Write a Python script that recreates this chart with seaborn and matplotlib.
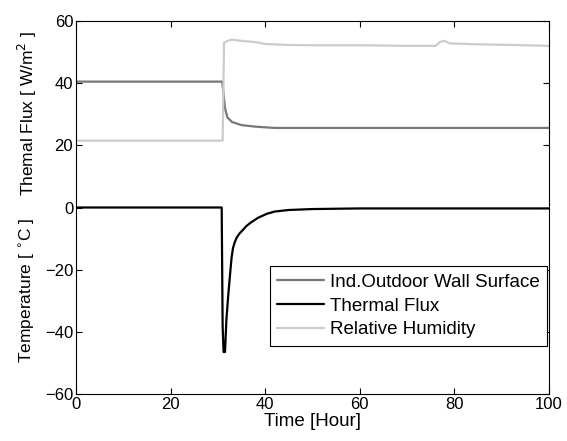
import matplotlib
matplotlib.use("Agg")
import matplotlib.pyplot as plt
import seaborn as sns

# values
t_wall = [0, 30.9, 31.1, 31.5, 32, 33, 35, 38, 40, 42, 100]
v_wall = [40.5, 40.5, 38, 32, 29, 27.5, 26.5, 26, 25.8, 25.6, 25.6]

t_flux = [0, 30.8, 31.0, 31.2, 31.5, 31.8, 32.2, 32.6, 32.9, 33.2, 33.6, 34.0, 34.6,
          35.3, 36.0, 37.0, 38.5, 40.4, 42.0, 45.0, 50.0, 60.0, 70.0, 100.0]
v_flux = [0, 0, -38, -46.5, -46.5, -36, -28, -21, -16, -13, -11, -9.6, -8.3,
          -7.2, -6.0, -4.8, -3.3, -2.0, -1.3, -0.8, -0.5, -0.3, -0.3, -0.3]

t_rh = [0, 31.0, 31.3, 32, 33, 35, 38, 40, 45, 50, 60, 70, 76, 77, 78, 79, 85, 95, 100]
v_rh = [21.5, 21.5, 53, 53.6, 54, 53.6, 53.2, 52.6, 52.3, 52.2, 52.2, 52, 52, 53.3, 53.6, 52.8, 52.5, 52.2, 52.0]

labels = ["Ind.Outdoor Wall Surface", "Thermal Flux", "Relative Humidity"]
colors = ["#777777", "#000000", "#cccccc"]

sns.set_style("ticks")
plt.rcParams["font.family"] = ["Liberation Sans", "DejaVu Sans"]
plt.rcParams["xtick.direction"] = "in"
plt.rcParams["ytick.direction"] = "in"
plt.rcParams["text.color"] = "black"
plt.rcParams["axes.labelcolor"] = "black"

fig = plt.figure(figsize=(5.67, 4.41), dpi=100)
ax = fig.add_axes([76 / 567, 47 / 441, 473 / 567, 373 / 441])

sns.lineplot(x=t_wall, y=v_wall, ax=ax, color=colors[0], lw=1.6, label=labels[0])
sns.lineplot(x=t_flux, y=v_flux, ax=ax, color=colors[1], lw=1.6, label=labels[1])
sns.lineplot(x=t_rh, y=v_rh, ax=ax, color=colors[2], lw=1.6, label=labels[2])

ax.set_xlim(0, 100)
ax.set_ylim(-60, 60)
ax.set_xticks([0, 20, 40, 60, 80, 100])
ax.set_yticks([-60, -40, -20, 0, 20, 40, 60])
ax.tick_params(axis="both", labelsize=12, top=True, right=True, length=4, width=0.8,
               color="black", labelcolor="black", pad=2)
for s in ax.spines.values():
    s.set_visible(True)
    s.set_color("black")
    s.set_linewidth(0.8)
ax.set_xlabel("Time [Hour]", fontsize=13.5, labelpad=1)
ax.set_ylabel("")

fig.text(27 / 567, 1 - 114 / 441, "Themal Flux [ W/m$^2$ ]", rotation=90,
         ha="center", va="center", fontsize=12.5)
fig.text(27 / 567, 1 - 290 / 441, "Temperature [ $^{\\circ}$C ]", rotation=90,
         ha="center", va="center", fontsize=12.5)

leg = ax.legend(loc="lower right", bbox_to_anchor=(0.996, 0.129), fontsize=13.5,
                frameon=True, fancybox=False, edgecolor="black", framealpha=1,
                handlelength=2.5, borderpad=0.4, labelspacing=0.35, handletextpad=0.3,
                borderaxespad=0)
leg.get_frame().set_linewidth(0.8)

fig.savefig("out.png", dpi=100)
